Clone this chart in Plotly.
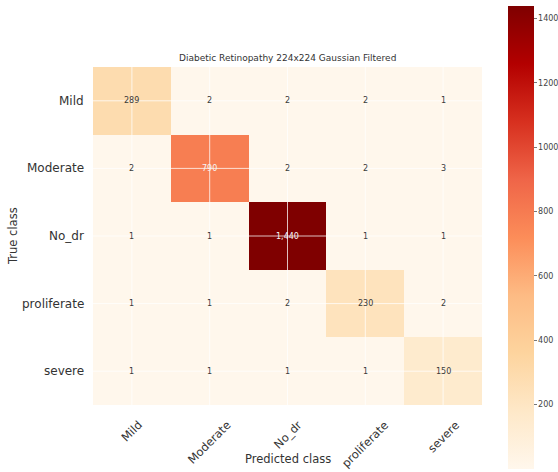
import plotly.graph_objects as go

# Confusion matrix data
classes = ["Mild", "Moderate", "No_dr", "proliferate", "severe"]
row_mild = [289, 2, 2, 2, 1]
row_moderate = [2, 790, 2, 2, 3]
row_no_dr = [1, 1, 1440, 1, 1]
row_proliferate = [1, 1, 2, 230, 2]
row_severe = [1, 1, 1, 1, 150]
matrix = [row_mild, row_moderate, row_no_dr, row_proliferate, row_severe]
cbar_ticks = [200, 400, 600, 800, 1000, 1200, 1400]

title_text = "Diabetic Retinopathy 224x224 Gaussian Filtered"
x_title = "Predicted class"
y_title = "True class"

FONT = "DejaVu Sans"
zmax = max(max(r) for r in matrix)
zmin = min(min(r) for r in matrix)

fig = go.Figure(
    go.Heatmap(
        z=matrix,
        x=classes,
        y=classes,
        colorscale="OrRd",
        zmin=zmin,
        zmax=zmax,
        xgap=0,
        ygap=0,
        hoverongaps=False,
        colorbar=dict(
            thickness=26,
            len=1.37,
            lenmode="fraction",
            y=0.497,
            yanchor="middle",
            x=1.067,
            xanchor="left",
            xpad=0,
            ypad=0,
            outlinewidth=0,
            tickvals=cbar_ticks,
            ticks="outside",
            ticklen=3,
            tickwidth=1,
            tickcolor="#777",
            tickfont=dict(family=FONT, size=8, color="#444"),
        ),
    )
)

annotations = []
# cell values, light text on dark cells
for i, row in enumerate(matrix):
    for j, v in enumerate(row):
        annotations.append(dict(
            x=classes[j], y=classes[i], xref="x", yref="y",
            text=f"{v:,}", showarrow=False,
            font=dict(family=FONT, size=8,
                      color="#f5f5f5" if v > zmax / 2 else "#3a3a3a"),
        ))

# rotated x tick labels centred under each column
for c in classes:
    annotations.append(dict(
        x=c, y=0, xref="x", yref="paper", yshift=-10,
        text=c, showarrow=False, textangle=-45,
        xanchor="center", yanchor="top",
        font=dict(family=FONT, size=11.5, color="#333"),
    ))

# y tick labels
for c in classes:
    annotations.append(dict(
        x=0, y=c, xref="paper", yref="y", xshift=-7,
        text=c, showarrow=False, xanchor="right", yanchor="middle",
        font=dict(family=FONT, size=12, color="#333"),
    ))

# title and axis titles
annotations.append(dict(
    x=0.5, y=1, xref="paper", yref="paper", yshift=2,
    text=title_text, showarrow=False, xanchor="center", yanchor="bottom",
    font=dict(family=FONT, size=9, color="#333"),
))
annotations.append(dict(
    x=0.5, y=0, xref="paper", yref="paper", yshift=-54,
    text=x_title, showarrow=False, xanchor="center", yanchor="middle",
    font=dict(family=FONT, size=11.5, color="#333"),
))
annotations.append(dict(
    x=0, y=0.5, xref="paper", yref="paper", xshift=-80,
    text=y_title, showarrow=False, xanchor="center", yanchor="middle",
    textangle=-90,
    font=dict(family=FONT, size=11.5, color="#333"),
))

# white grid lines through cell centres
shapes = []
for c in classes:
    shapes.append(dict(type="line", xref="x", yref="paper", x0=c, x1=c,
                       y0=0, y1=1, line=dict(color="rgba(255,255,255,0.75)", width=1),
                       layer="above"))
    shapes.append(dict(type="line", xref="paper", yref="y", x0=0, x1=1,
                       y0=c, y1=c, line=dict(color="rgba(255,255,255,0.75)", width=1),
                       layer="above"))

fig.update_layout(
    width=558,
    height=472,
    margin=dict(l=93, r=76, t=67, b=67, autoexpand=False),
    paper_bgcolor="white",
    plot_bgcolor="white",
    font=dict(family=FONT),
    annotations=annotations,
    shapes=shapes,
    xaxis=dict(showticklabels=False, showgrid=False, zeroline=False,
               ticks="", showline=False),
    yaxis=dict(showticklabels=False, showgrid=False, zeroline=False,
               ticks="", showline=False, autorange="reversed"),
)

fig.write_html("out.html", config={"displayModeBar": False})
